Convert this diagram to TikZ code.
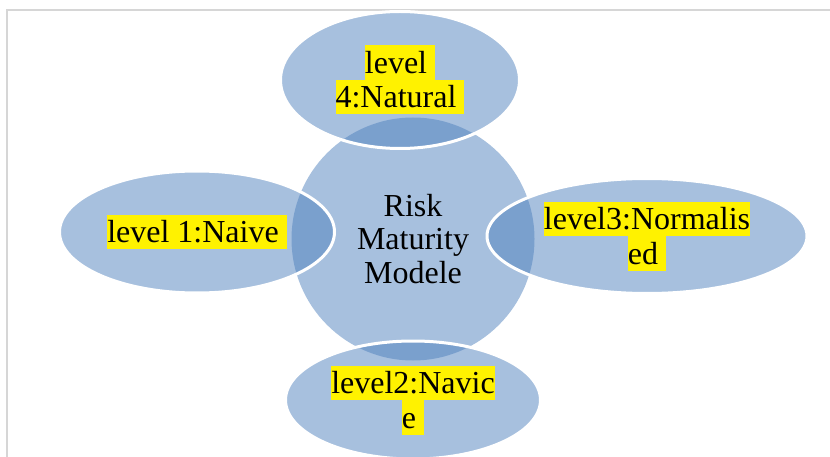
\documentclass[tikz,border=0pt]{standalone}
\usepackage{fontspec}
\setmainfont{Liberation Serif}
\usetikzlibrary{shapes.geometric}
\definecolor{accent}{RGB}{79,129,189}
\definecolor{framegray}{RGB}{214,214,214}
\newcommand{\hlline}[1]{{\setlength{\fboxsep}{0pt}\colorbox{yellow}{\rule[-6.5pt]{0pt}{34.5pt}#1}}}
\tikzset{
  bubble/.style={ellipse, fill=accent, fill opacity=.5, text opacity=1, draw=white, line width=3pt,
    inner sep=0pt, align=center, font=\fontsize{32}{34.5}\selectfont},
  hub/.style={circle, fill=accent, fill opacity=.5, text opacity=1, inner sep=0pt,
    align=center, font=\fontsize{32}{33.5}\selectfont},
}
\begin{document}
\begin{tikzpicture}[x=1pt,y=-1pt]
\useasboundingbox (0,0) rectangle (830,457);
\coordinate (fa) at (7,457);
\coordinate (fb) at (7,10);
\coordinate (fc) at (830,10);
\draw[framegray, line width=2pt] (fa) -- (fb) -- (fc);
\node[hub, minimum size=243pt] (risk) at (413,239) {Risk\\Maturity\\Modele};
\node[bubble, minimum width=239pt, minimum height=137pt] (natural) at (400,80) {\hlline{level\ }\\\hlline{4:Natural\ }};
\node[bubble, minimum width=275pt, minimum height=122pt] (naive) at (197,232) {\hlline{level 1:Naive\ }};
\node[bubble, minimum width=320pt, minimum height=115pt] (normal) at (647,236) {\hlline{level3:Normalis}\\\hlline{ed\ }};
\node[bubble, minimum width=255pt, minimum height=118pt] (navice) at (413,400) {\hlline{level2:Navic}\\\hlline{e\ }};
\end{tikzpicture}
\end{document}
